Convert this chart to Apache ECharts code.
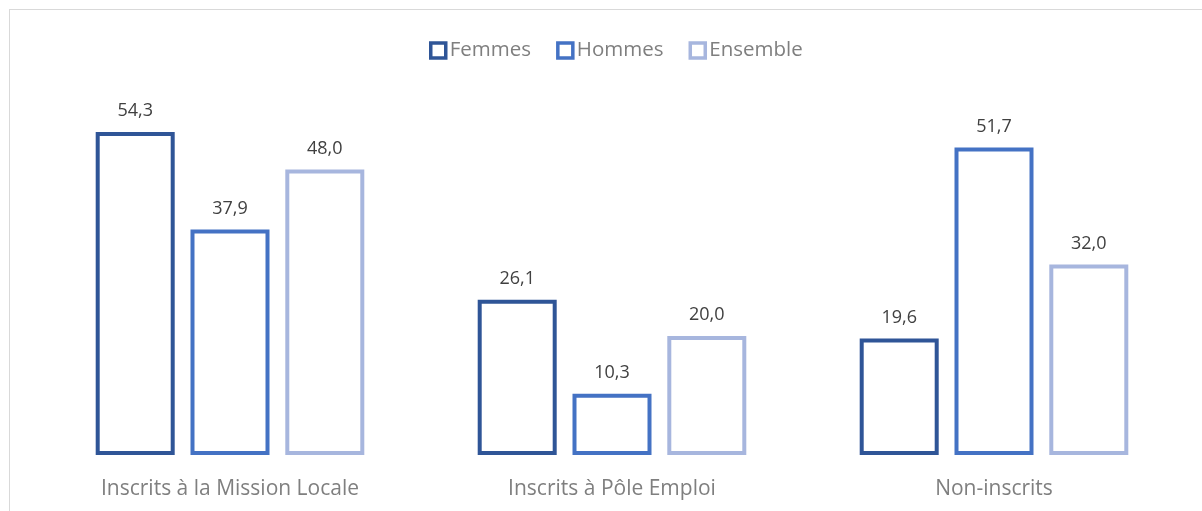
<!DOCTYPE html>
<html>
<head>
<meta charset="utf-8">
<script src="https://cdn.jsdelivr.net/npm/echarts@6/dist/echarts.min.js"></script>
<style>
  html, body { margin: 0; padding: 0; background: #fff; }
  #frame { position: absolute; left: 9px; top: 9px; width: 1400px; height: 700px; border: 1px solid #d9d9d9; }
  #main { position: absolute; left: 0; top: 0; width: 1202px; height: 511px; }
</style>
</head>
<body>
<div id="frame"></div>
<div id="main"></div>
<script>
const categories = ['Inscrits à la Mission Locale', 'Inscrits à Pôle Emploi', 'Non-inscrits']
const femmes = [54.3, 26.1, 19.6]
const hommes = [37.9, 10.3, 51.7]
const ensemble = [48.0, 20.0, 32.0]

const seriesNames = ['Femmes', 'Hommes', 'Ensemble']
const seriesColors = ['#2F5597', '#4472C4', '#A7B6DE']
const seriesData = [femmes, hommes, ensemble]

const fontFamily = '"Open Sans", "Noto Sans", sans-serif'

const chart = echarts.init(document.getElementById('main'))

const series = seriesData.map(function (data, i) {
    return {
        name: seriesNames[i],
        type: 'bar',
        data: data,
        barWidth: 79,
        barGap: '20%',
        itemStyle: {
            color: '#ffffff',
            borderColor: seriesColors[i],
            borderWidth: 4
        },
        label: {
            show: true,
            position: 'top',
            distance: 12,
            color: '#404040',
            fontSize: 18,
            fontFamily: fontFamily,
            formatter: function (p) { return p.value.toFixed(1).replace('.', ',') }
        }
    }
})

chart.setOption({
    animation: false,
    legend: {
        top: 35,
        left: 424,
        itemWidth: 15,
        itemHeight: 15,
        itemGap: 25,
        icon: 'rect',
        textStyle: { color: '#7f7f7f', fontSize: 20.5, fontFamily: fontFamily, padding: [0, 0, 0, -1] },
        data: seriesNames.map(function (n, i) {
            return { name: n, itemStyle: { color: '#ffffff', borderColor: seriesColors[i], borderWidth: 3.5 } }
        })
    },
    grid: { left: 39, right: 17, top: 98, bottom: 56, containLabel: false },
    xAxis: {
        type: 'category',
        data: categories,
        axisLine: { show: false },
        axisTick: { show: false },
        axisLabel: { color: '#7f7f7f', fontSize: 21, fontFamily: fontFamily, margin: 24 }
    },
    yAxis: {
        type: 'value',
        min: 0,
        max: 60,
        show: false,
        splitLine: { show: false }
    },
    series: series
})
</script>
</body>
</html>
